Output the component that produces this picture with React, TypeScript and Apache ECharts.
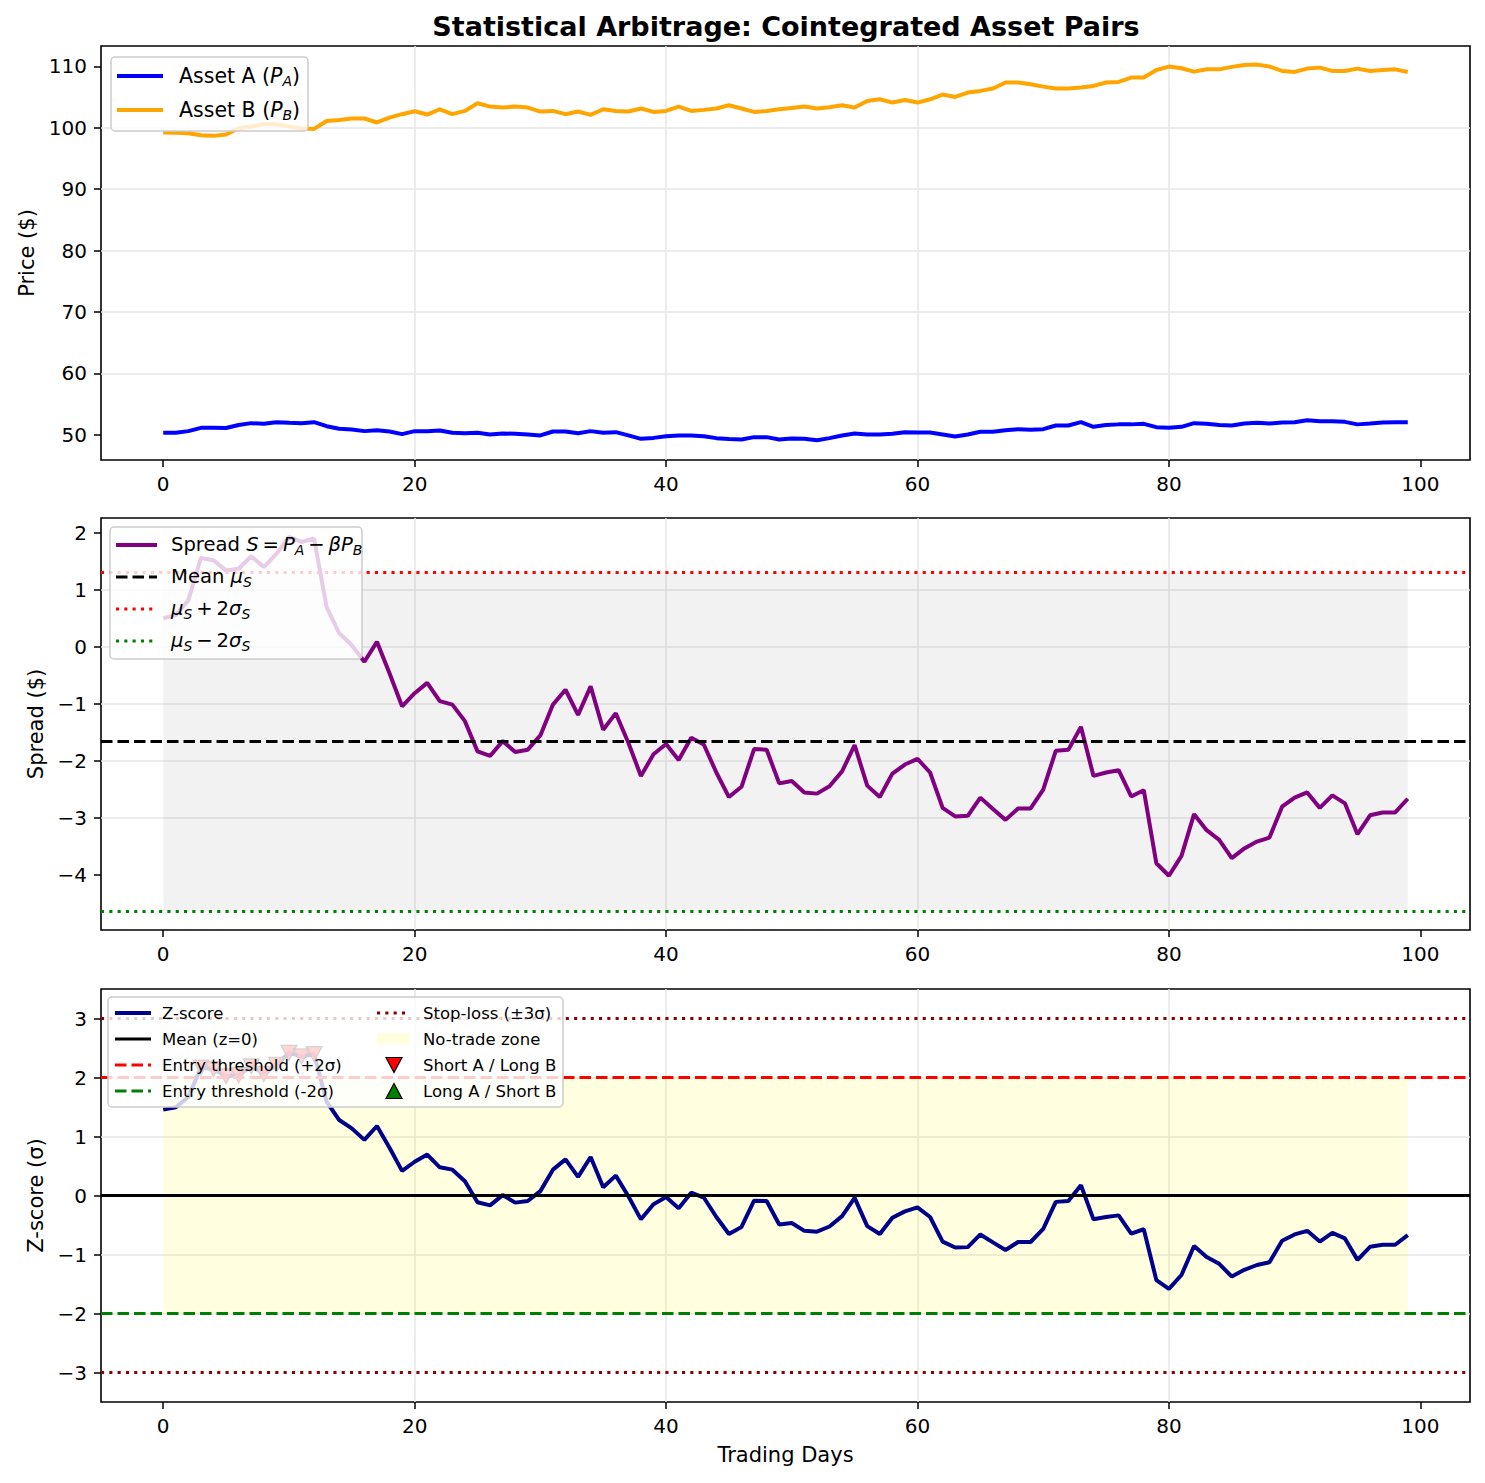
import React, { useEffect, useRef } from "react";
import * as echarts from "echarts";

// ---- data ---------------------------------------------------------------
const PRICE_A = [
  50.33, 50.33, 50.6, 51.14, 51.14, 51.1, 51.6, 51.9, 51.8, 52.06,
  51.95, 51.9, 52.06, 51.4, 50.98, 50.87, 50.6, 50.76, 50.54, 50.11,
  50.6, 50.6, 50.7, 50.33, 50.27, 50.33, 50.06, 50.22, 50.17, 50.06,
  49.9, 50.54, 50.54, 50.27, 50.6, 50.33, 50.43, 49.9, 49.35, 49.5,
  49.78, 49.9, 49.9, 49.78, 49.46, 49.3, 49.24, 49.62, 49.62, 49.24,
  49.4, 49.35, 49.13, 49.46, 49.9, 50.22, 50.06, 50.06, 50.17, 50.43,
  50.38, 50.38, 50.06, 49.73, 50.06, 50.49, 50.49, 50.76, 50.92, 50.81,
  50.92, 51.52, 51.52, 52.06, 51.3, 51.6, 51.7, 51.7, 51.79, 51.25,
  51.14, 51.3, 51.9, 51.8, 51.6, 51.52, 51.84, 51.95, 51.84, 52.0,
  52.06, 52.38, 52.22, 52.22, 52.11, 51.7, 51.84, 52.0, 52.06, 52.06,
];

const PRICE_B = [
  99.22, 99.17, 99.1, 98.78, 98.67, 98.9, 99.92, 100.2, 100.57, 100.57,
  100.2, 99.9, 99.8, 101.1, 101.26, 101.5, 101.5, 100.85, 101.65, 102.2,
  102.68, 102.14, 103.0, 102.2, 102.73, 103.98, 103.44, 103.28, 103.44, 103.28,
  102.63, 102.73, 102.2, 102.63, 102.09, 103.0, 102.73, 102.63, 103.12, 102.57,
  102.73, 103.44, 102.73, 102.9, 103.12, 103.66, 103.12, 102.57, 102.73, 103.0,
  103.22, 103.44, 103.12, 103.33, 103.66, 103.28, 104.36, 104.63, 104.09, 104.52,
  104.09, 104.63, 105.4, 105.0, 105.72, 105.99, 106.37, 107.35, 107.35, 107.07,
  106.69, 106.37, 106.37, 106.53, 106.8, 107.35, 107.45, 108.16, 108.16, 109.4,
  109.95, 109.67, 109.13, 109.5, 109.5, 109.9, 110.22, 110.27, 109.95, 109.24,
  109.08, 109.62, 109.78, 109.24, 109.24, 109.62, 109.24, 109.4, 109.5, 109.08,
];

const SPREAD = [
  0.5, 0.56, 0.82, 1.56, 1.52, 1.34, 1.37, 1.59, 1.4, 1.63,
  1.93, 1.84, 1.9, 0.7, 0.24, 0.03, -0.26, 0.09, -0.46, -1.04,
  -0.81, -0.63, -0.95, -1.01, -1.3, -1.83, -1.91, -1.65, -1.84, -1.8,
  -1.55, -1.01, -0.75, -1.19, -0.69, -1.45, -1.16, -1.68, -2.26, -1.88,
  -1.7, -1.98, -1.59, -1.71, -2.2, -2.63, -2.45, -1.79, -1.8, -2.39,
  -2.35, -2.55, -2.57, -2.44, -2.18, -1.72, -2.43, -2.63, -2.22, -2.06,
  -1.96, -2.2, -2.82, -2.97, -2.96, -2.64, -2.84, -3.03, -2.83, -2.83,
  -2.5, -1.82, -1.8, -1.4, -2.26, -2.2, -2.16, -2.62, -2.51, -3.79,
  -4.01, -3.66, -2.93, -3.21, -3.38, -3.7, -3.53, -3.41, -3.34, -2.8,
  -2.64, -2.55, -2.82, -2.6, -2.74, -3.28, -2.95, -2.9, -2.9, -2.66,
];

// trading-day index for every observation
const DAYS = SPREAD.map((_, i) => i);

// spread statistics
const SPREAD_MEAN = -1.66;
const SPREAD_STD = 1.485;

// z-score thresholds
const ENTRY_Z = 2;
const STOP_Z = 3;

// tick labels
const X_TICKS = [0, 20, 40, 60, 80, 100];
const PRICE_TICKS = [50, 60, 70, 80, 90, 100, 110];
const SPREAD_TICKS = [-4, -3, -2, -1, 0, 1, 2];
const Z_TICKS = [-3, -2, -1, 0, 1, 2, 3];

// axis limits
const X_LIMITS = [-4.95, 103.95];
const PRICE_LIMITS = [45.9, 113.3];
const SPREAD_LIMITS = [-4.96, 2.26];
const Z_LIMITS = [-3.5, 3.5];

const TITLE = "Statistical Arbitrage: Cointegrated Asset Pairs";

// ---- derived series ------------------------------------------------------
const Z_SCORE = SPREAD.map((s) => +((s - SPREAD_MEAN) / SPREAD_STD).toFixed(3));
const UPPER_BAND = SPREAD_MEAN + 2 * SPREAD_STD;
const LOWER_BAND = SPREAD_MEAN - 2 * SPREAD_STD;
const SHORT_SIGNALS = DAYS.filter((d) => Z_SCORE[d] > ENTRY_Z).map((d) => [d, Z_SCORE[d]]);
const LONG_SIGNALS = DAYS.filter((d) => Z_SCORE[d] < -ENTRY_Z).map((d) => [d, Z_SCORE[d]]);

const pairs = (ys: number[]) => DAYS.map((d, i) => [d, ys[i]]);

// ---- styling helpers -----------------------------------------------------
const F = "'DejaVu Sans', sans-serif";
const DASHED = [11.5, 5];
const DOTTED = [3.1, 5.2];
const GRID_COLOR = "#e6e6e6";
const THIN = "\u2009";

const minusFmt = (v: number) => (v < 0 ? "\u2212" + Math.abs(v) : String(v));

function xAxisFor(gridIndex: number, name: string) {
  return {
    type: "value",
    gridIndex,
    min: X_LIMITS[0],
    max: X_LIMITS[1],
    minInterval: 20,
    maxInterval: 20,
    name,
    nameLocation: "middle",
    nameGap: 42,
    nameTextStyle: { fontSize: 21, fontFamily: F, color: "#000" },
    axisLine: { show: false, onZero: false },
    axisTick: { show: true, length: 7, lineStyle: { color: "#000", width: 1.5 }, customValues: X_TICKS },
    axisLabel: { show: true, customValues: X_TICKS, formatter: minusFmt, fontSize: 20, fontFamily: F, color: "#000", margin: 14 },
    splitLine: { show: true, showMinLine: false, showMaxLine: false, lineStyle: { color: GRID_COLOR, width: 1.5 } },
  };
}

function yAxisFor(gridIndex: number, name: string, limits: number[], ticks: number[], step: number, gap: number) {
  return {
    type: "value",
    gridIndex,
    min: limits[0],
    max: limits[1],
    minInterval: step,
    maxInterval: step,
    name,
    nameLocation: "middle",
    nameGap: gap,
    nameTextStyle: { fontSize: 21, fontFamily: F, color: "#000" },
    axisLine: { show: false, onZero: false },
    axisTick: { show: true, length: 7, lineStyle: { color: "#000", width: 1.5 }, customValues: ticks },
    axisLabel: { show: true, customValues: ticks, formatter: minusFmt, fontSize: 20, fontFamily: F, color: "#000", margin: 14 },
    splitLine: { show: true, showMinLine: false, showMaxLine: false, lineStyle: { color: GRID_COLOR, width: 1.5 } },
  };
}

const hLine = (y: number, color: string, type: any) => ({
  yAxis: y,
  lineStyle: { color, width: 3, type, opacity: 1 },
});

// ---- legend graphics -----------------------------------------------------
const frame = (x: number, y: number, w: number, h: number) => ({
  type: "rect",
  z: 100,
  shape: { x, y, width: w, height: h, r: 4 },
  style: { fill: "rgba(255,255,255,0.8)", stroke: "#cccccc", lineWidth: 1.5 },
});

const swatch = (x1: number, x2: number, y: number, stroke: string, lineWidth: number, lineDash?: number[]) => ({
  type: "line",
  z: 101,
  shape: { x1, y1: y, x2, y2: y },
  style: { stroke, lineWidth, lineDash: lineDash || null },
});

const mathRich = (fs: number) => {
  const sub = Math.round(fs * 0.7);
  return {
    n: { fontSize: fs, fontFamily: F, fill: "#000", lineHeight: fs + 6, verticalAlign: "bottom", padding: [0, 0, 2, 0] },
    i: { fontSize: fs, fontFamily: F, fontStyle: "italic", fill: "#000", lineHeight: fs + 6, verticalAlign: "bottom", padding: [0, 0, 2, 0] },
    s: { fontSize: sub, fontFamily: F, fontStyle: "italic", fill: "#000", lineHeight: sub + 2, verticalAlign: "bottom" },
  };
};

const label = (x: number, y: number, text: string, fs: number, rich?: any) => ({
  type: "text",
  z: 101,
  x,
  y,
  style: {
    text,
    fill: "#000",
    fontSize: fs,
    fontFamily: F,
    align: "left",
    verticalAlign: "middle",
    textAlign: "left",
    textVerticalAlign: "middle",
    rich,
  },
});

const triangle = (cx: number, cy: number, down: boolean, fill: string) => {
  const hw = 8;
  const hh = 7.5;
  const pts = down
    ? [[cx - hw, cy - hh], [cx + hw, cy - hh], [cx, cy + hh]]
    : [[cx - hw, cy + hh], [cx + hw, cy + hh], [cx, cy - hh]];
  return { type: "polygon", z: 101, shape: { points: pts }, style: { fill, stroke: "#000", lineWidth: 1.2 } };
};

function buildGraphics() {
  const rTop = mathRich(20.5);
  const rMid = mathRich(19.6);
  return [
    {
      type: "text",
      z: 101,
      x: 786,
      y: 26,
      style: { text: TITLE, fill: "#000", fontSize: 27, fontWeight: "bold", fontFamily: F, align: "center", verticalAlign: "middle", textAlign: "center", textVerticalAlign: "middle" },
    },
    // price legend
    frame(111, 57, 197, 74),
    swatch(117, 163, 76, "#0000ff", 4),
    label(179, 75, "{n|Asset A (}{i|P}{s|A}{n|)}", 20.5, rTop),
    swatch(117, 163, 110, "#ffa500", 4),
    label(179, 109, "{n|Asset B (}{i|P}{s|B}{n|)}", 20.5, rTop),
    // spread legend
    frame(110, 527, 252, 132),
    swatch(116, 157, 545, "#800080", 4),
    label(171, 544, `{n|Spread }{i|S}{n|${THIN}=${THIN}}{i|P}{s|A}{n|${THIN}\u2212${THIN}}{i|\u03b2P}{s|B}`, 19.6, rMid),
    swatch(116, 157, 577, "#000000", 3, DASHED),
    label(171, 576, "{n|Mean }{i|\u03bc}{s|S}", 19.6, rMid),
    swatch(116, 157, 609, "#ff0000", 3, DOTTED),
    label(171, 608, `{i|\u03bc}{s|S}{n|${THIN}+${THIN}2}{i|\u03c3}{s|S}`, 19.6, rMid),
    swatch(116, 157, 641, "#008000", 3, DOTTED),
    label(171, 640, `{i|\u03bc}{s|S}{n|${THIN}\u2212${THIN}2}{i|\u03c3}{s|S}`, 19.6, rMid),
    // z-score legend
    frame(108, 997, 455, 110),
    swatch(115, 151, 1013, "#00008b", 4),
    label(162, 1013, "Z-score", 16.5),
    swatch(115, 151, 1039, "#000000", 3),
    label(162, 1039, "Mean (z=0)", 16.5),
    swatch(115, 151, 1065, "#ff0000", 3, DASHED),
    label(162, 1065, "Entry threshold (+2\u03c3)", 16.5),
    swatch(115, 151, 1091, "#008000", 3, DASHED),
    label(162, 1091, "Entry threshold (-2\u03c3)", 16.5),
    swatch(377, 410, 1013, "#8b0000", 3, DOTTED),
    label(423, 1013, "Stop-loss (\u00b13\u03c3)", 16.5),
    {
      type: "rect",
      z: 101,
      shape: { x: 377, y: 1033, width: 33, height: 11 },
      style: { fill: "rgba(255,255,0,0.12)", stroke: "none" },
    },
    label(423, 1039, "No-trade zone", 16.5),
    triangle(394, 1065, true, "#ff0000"),
    label(423, 1065, "Short A / Long B", 16.5),
    triangle(394, 1091, false, "#008000"),
    label(423, 1091, "Long A / Short B", 16.5),
  ];
}

function buildOption() {
  return {
    animation: false,
    backgroundColor: "#ffffff",
    grid: [
      { left: 101, right: 15, top: 46, height: 414, show: true, borderColor: "#000", borderWidth: 1.6, backgroundColor: "transparent" },
      { left: 101, right: 15, top: 518, height: 412, show: true, borderColor: "#000", borderWidth: 1.6, backgroundColor: "transparent" },
      { left: 101, right: 15, top: 989, height: 413, show: true, borderColor: "#000", borderWidth: 1.6, backgroundColor: "transparent" },
    ],
    xAxis: [xAxisFor(0, ""), xAxisFor(1, ""), xAxisFor(2, "Trading Days")],
    yAxis: [
      yAxisFor(0, "Price ($)", PRICE_LIMITS, PRICE_TICKS, 10, 64),
      yAxisFor(1, "Spread ($)", SPREAD_LIMITS, SPREAD_TICKS, 1, 55),
      yAxisFor(2, "Z-score (\u03c3)", Z_LIMITS, Z_TICKS, 1, 55),
    ],
    series: [
      {
        name: "Asset A",
        type: "line",
        xAxisIndex: 0,
        yAxisIndex: 0,
        data: pairs(PRICE_A),
        showSymbol: false,
        symbol: "none",
        z: 3,
        lineStyle: { color: "#0000ff", width: 4 },
        itemStyle: { color: "#0000ff" },
      },
      {
        name: "Asset B",
        type: "line",
        xAxisIndex: 0,
        yAxisIndex: 0,
        data: pairs(PRICE_B),
        showSymbol: false,
        symbol: "none",
        z: 3,
        lineStyle: { color: "#ffa500", width: 4 },
        itemStyle: { color: "#ffa500" },
      },
      {
        name: "Spread",
        type: "line",
        xAxisIndex: 1,
        yAxisIndex: 1,
        data: pairs(SPREAD),
        showSymbol: false,
        symbol: "none",
        z: 3,
        lineStyle: { color: "#800080", width: 4 },
        itemStyle: { color: "#800080" },
        markArea: {
          silent: true,
          z: 1,
          itemStyle: { color: "rgba(128,128,128,0.1)" },
          data: [[{ xAxis: DAYS[0], yAxis: LOWER_BAND }, { xAxis: DAYS[DAYS.length - 1], yAxis: UPPER_BAND }]],
        },
        markLine: {
          silent: true,
          symbol: ["none", "none"],
          label: { show: false },
          data: [
            hLine(SPREAD_MEAN, "#000000", DASHED),
            hLine(UPPER_BAND, "#ff0000", DOTTED),
            hLine(LOWER_BAND, "#008000", DOTTED),
          ],
        },
      },
      {
        name: "Z-score",
        type: "line",
        xAxisIndex: 2,
        yAxisIndex: 2,
        data: pairs(Z_SCORE),
        showSymbol: false,
        symbol: "none",
        z: 3,
        lineStyle: { color: "#00008b", width: 4 },
        itemStyle: { color: "#00008b" },
        markArea: {
          silent: true,
          z: 1,
          itemStyle: { color: "rgba(255,255,0,0.12)" },
          data: [[{ xAxis: DAYS[0], yAxis: -ENTRY_Z }, { xAxis: DAYS[DAYS.length - 1], yAxis: ENTRY_Z }]],
        },
        markLine: {
          silent: true,
          symbol: ["none", "none"],
          label: { show: false },
          data: [
            hLine(0, "#000000", "solid"),
            hLine(ENTRY_Z, "#ff0000", DASHED),
            hLine(-ENTRY_Z, "#008000", DASHED),
            hLine(STOP_Z, "#8b0000", DOTTED),
            hLine(-STOP_Z, "#8b0000", DOTTED),
          ],
        },
      },
      {
        name: "Short A / Long B",
        type: "scatter",
        xAxisIndex: 2,
        yAxisIndex: 2,
        data: SHORT_SIGNALS,
        symbol: "triangle",
        symbolRotate: 180,
        symbolSize: [16, 15],
        z: 4,
        itemStyle: { color: "#ff0000", borderColor: "#000", borderWidth: 1.2 },
      },
      {
        name: "Long A / Short B",
        type: "scatter",
        xAxisIndex: 2,
        yAxisIndex: 2,
        data: LONG_SIGNALS,
        symbol: "triangle",
        symbolSize: [16, 15],
        z: 4,
        itemStyle: { color: "#008000", borderColor: "#000", borderWidth: 1.2 },
      },
    ],
    graphic: { elements: buildGraphics() },
  };
}

export default function App() {
  const ref = useRef<HTMLDivElement>(null);

  useEffect(() => {
    document.body.style.margin = "0";
    if (!ref.current) return;
    const chart = echarts.init(ref.current, null, { renderer: "svg" });
    chart.setOption(buildOption() as any);
    return () => chart.dispose();
  }, []);

  return <div ref={ref} style={{ position: "absolute", left: 0, top: 0, width: 1485, height: 1483 }} />;
}
